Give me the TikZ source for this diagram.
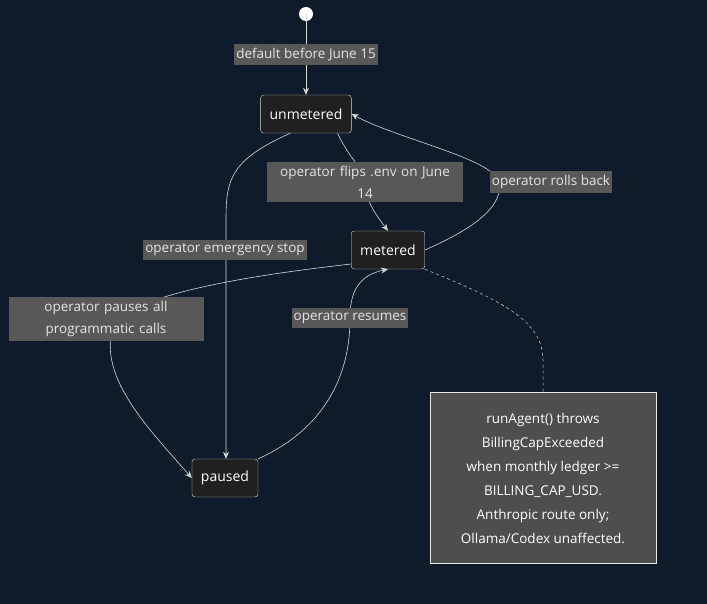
\documentclass[tikz,border=0pt]{standalone}
\usepackage{fontspec}
\setmainfont{Open Sans}
\usetikzlibrary{arrows.meta,positioning}
\definecolor{bgnavy}{HTML}{0F1A2A}
\definecolor{statefill}{HTML}{1F2020}
\definecolor{labelgray}{HTML}{585858}
\definecolor{notegray}{HTML}{4E4E4E}
\definecolor{linegray}{HTML}{D8D8D8}
\tikzset{
  state/.style={draw=linegray, fill=statefill, rounded corners=3pt, text=white,
    minimum height=38pt, inner xsep=9pt, font=\fontsize{14}{16}\selectfont},
  edgelabel/.style={fill=labelgray, text=white!90!black, inner xsep=2pt, inner ysep=4pt, align=center,
    font=\fontsize{13.5}{22}\selectfont},
  trans/.style={draw=linegray, line width=0.6pt, -{Stealth[length=7pt,width=6pt]}},
}
\begin{document}
\begin{tikzpicture}[x=1pt,y=-1pt]
\fill[bgnavy] (0,0) rectangle (707,604);
\useasboundingbox (0,0) rectangle (707,604);
% states
\fill[white] (306,14) circle (7) coordinate (start);
\node[state] (unmetered) at (306,114) {unmetered};
\node[state] (metered) at (388,250) {metered};
\node[state] (paused) at (225,478) {paused};
\node[draw=linegray!60, fill=notegray, text=white, minimum width=226pt, minimum height=171pt,
  align=center, font=\fontsize{13.5}{24}\selectfont] (note) at (543,478)
  {runAgent() throws\\BillingCapExceeded\\when monthly ledger >=\\BILLING\_CAP\_USD.\\Anthropic route only;\\Ollama/Codex unaffected.};
% transitions
\draw[trans] (start) -- node[edgelabel] {default before June 15} (unmetered);
\draw[trans] (unmetered.south east) ++(-14,0) .. controls (350,160) and (365,170) .. (365,182)
  .. controls (365,200) and (376,215) .. (metered.north);
\node[edgelabel, text width=192pt] at (365,182) {operator flips .env on June\\14};
\draw[trans] (metered.east) .. controls (470,230) and (500,210) .. (500,185)
  .. controls (500,160) and (400,140) .. (unmetered.east);
\node[edgelabel] at (551,182) {operator rolls back};
\draw[trans] (unmetered.south west) ++(30,0) .. controls (230,160) and (226,180) .. (226,220)
  -- (paused.north -| 226,0);
\node[edgelabel] at (225,250) {operator emergency stop};
\draw[trans] (metered.west) ++(0,14) .. controls (300,270) and (120,290) .. (112,330)
  .. controls (100,380) and (150,430) .. (paused.west);
\node[edgelabel, text width=191pt] at (106,319) {operator pauses all\\programmatic calls};
\draw[trans] (paused.north east) .. controls (300,440) and (350,400) .. (350,318)
  .. controls (350,290) and (360,275) .. (metered.south);
\node[edgelabel] at (350,318) {operator resumes};
\draw[linegray, dashed, line width=0.5pt] (metered.south east) .. controls (500,300) and (543,320) .. (543,360) -- (note.north);
\end{tikzpicture}
\end{document}
